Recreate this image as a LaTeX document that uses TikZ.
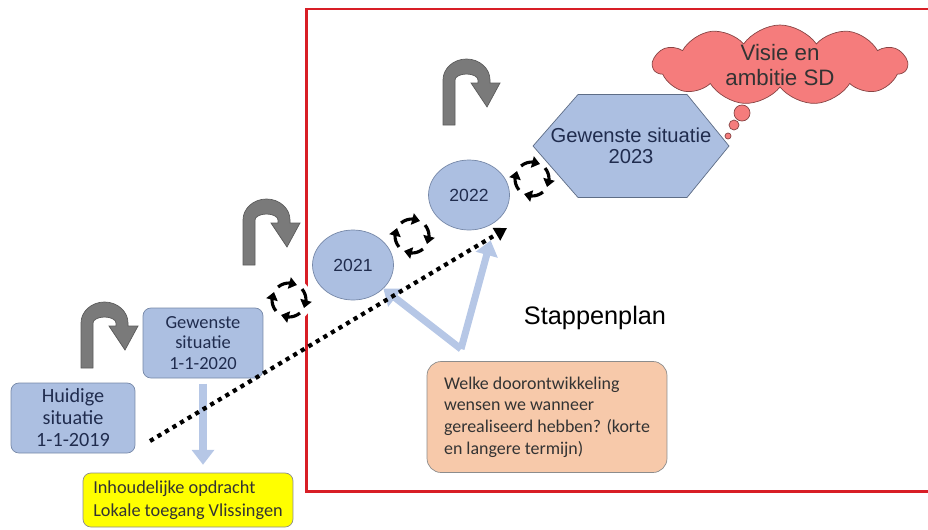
\documentclass[tikz,border=0pt]{standalone}
\usepackage{fontspec}
\setmainfont{Carlito}
\newfontfamily\arialfont{Liberation Sans}
\usetikzlibrary{positioning, arrows.meta, bending, shapes.geometric, shapes.symbols}

\definecolor{vakblauw}{RGB}{172,191,225}
\definecolor{randblauw}{RGB}{118,136,168}
\definecolor{inktblauw}{RGB}{32,44,78}
\definecolor{zalm}{RGB}{247,201,170}
\definecolor{wolkrood}{RGB}{245,124,124}
\definecolor{keergrijs}{RGB}{122,122,122}
\definecolor{pijlblauw}{RGB}{182,199,230}
\definecolor{kaderrood}{RGB}{216,30,38}
\definecolor{geel}{RGB}{255,255,0}

\tikzset{
blok/.style={draw=randblauw, fill=vakblauw, text=inktblauw, rounded corners=4.5pt, align=center}, % the blue boxes on the left
jaar/.style={ellipse, draw=randblauw, fill=vakblauw, text=inktblauw, minimum width=1.62cm, minimum height=1.4cm, font=\arialfont\fontsize{10}{12}\selectfont}, % one year
doelvak/.style={draw=randblauw!80!black, fill=vakblauw}, % the hexagon
doel/.style={text=inktblauw, align=center, inner sep=0pt, font=\arialfont\fontsize{11.5}{12}\selectfont}, % text in the hexagon
wolk/.style={cloud, cloud puffs=11, cloud puff arc=110, cloud ignores aspect, draw=wolkrood!55!black, fill=wolkrood, minimum width=5.08cm, minimum height=1.6cm, inner sep=0pt, align=center, text=black!80, font=\arialfont\fontsize{12.7}{14.7}\selectfont}, % thought cloud
bel/.style={draw=wolkrood!55!black, fill=wolkrood, line width=0.4pt}, % small bubbles under the cloud
notitie/.style={draw=black!45, align=left, text=black!80}, % text boxes
kader/.style={draw=kaderrood, line width=1.7pt}, % red frame round the plan
stap/.style={-{Triangle[width=12.5pt, length=8.5pt]}, draw=pijlblauw, line width=4pt}, % light blue arrows
pad/.style={-{Triangle[width=8pt, length=7pt]}, line width=2.4pt, dash pattern=on 2.4pt off 2.6pt}, % dotted route
draaipijl/.style={-{Triangle[length=4.5pt, width=6.5pt, flex]}, line width=1.8pt}, % one quarter of a cycle
keerpijl/.pic={
  \filldraw[fill=keergrijs, draw=keergrijs!75!black, line width=0.4pt]
    (0,0) -- (0,45) arc[start angle=180, end angle=0, x radius=23.5, y radius=21]
    -- (47,42) -- (57,42) -- (44,18) -- (28,42) -- (35,42) -- (35,45)
    arc[start angle=0, end angle=180, x radius=11.5, y radius=6]
    -- (12,0) -- cycle;
}, % grey u-turn arrow
rondje/.pic={
  \fill[white] (0,0) circle[radius=23];
  \foreach \hoek in {90,0,-90,180}
    \draw[draaipijl] (\hoek+40:17) arc[start angle=\hoek+40, end angle=\hoek-28, radius=17];
}, % dashed cycle
}

\begin{document}
\begin{tikzpicture}[x=0.02cm, y=0.02cm]
    \useasboundingbox (0,0) rectangle (928,529);
    \draw[kader] (928,520) -- (306,520) -- (306,38) -- (928,38);

    \pic at (289,229) {rondje};
    \pic at (412,293) {rondje};
    \pic at (532,350) {rondje};
    \pic at (81,161) {keerpijl};
    \pic at (243,264) {keerpijl};
    \pic at (443,404) {keerpijl};

    \node[blok, minimum width=2.48cm, minimum height=1.4cm, font=\fontsize{11.5}{12.5}\selectfont] (huidig) at (73,111) {Huidige\\situatie\\1-1-2019};
    \node[blok, minimum width=2.4cm, minimum height=1.4cm, font=\fontsize{10.5}{11.9}\selectfont] (g2020) at (203,186) {Gewenste\\situatie\\1-1-2020};
    \node[notitie, fill=geel, rounded corners=4.5pt, minimum width=4.2cm, minimum height=1.08cm, font=\fontsize{10.4}{13}\selectfont] (opdracht) at (188,29) {Inhoudelijke opdracht\\Lokale toegang Vlissingen};
    \node[notitie, fill=zalm, rounded corners=8pt, minimum width=4.8cm, minimum height=2.22cm, font=\fontsize{10.2}{12.3}\selectfont] (vraag) at (547,112) {Welke doorontwikkeling\\wensen we wanneer\\gerealiseerd hebben? (korte\\en langere termijn)};
    \node[jaar] (j2021) at (353,264) {2021};
    \node[jaar] (j2022) at (469,334) {2022};
    \filldraw[doelvak, shift={(631,383)}] (-98,0) -- (-53,51.5) -- (56,51.5) -- (98,0) -- (56,-51.5) -- (-53,-51.5) -- cycle;
    \node[doel] (g2023) at (631,383) {Gewenste situatie\\2023};
    \node[wolk] (visie) at (780,464) {Visie en\\ambitie SD};
    \node[font=\arialfont\fontsize{14.4}{16}\selectfont] (stappen) at (595,211) {Stappenplan};

    \filldraw[bel] (742,416) circle[radius=8];
    \filldraw[bel] (734,404) circle[radius=5];
    \filldraw[bel] (728,393) circle[radius=3];

    \coordinate (vraagpunt) at (461,180);
    \coordinate (start) at (150,88);
    \coordinate (eind) at (507,301);
    \draw[stap, shorten <=3pt, shorten >=4.5pt] (g2020.south) -- (g2020.south |- opdracht.north);
    \draw[stap] (vraagpunt) -- (j2021);
    \draw[stap, shorten >=11pt] (vraagpunt) -- (j2022.-45);
    \draw[pad] (start) -- (eind);
\end{tikzpicture}
\end{document}
